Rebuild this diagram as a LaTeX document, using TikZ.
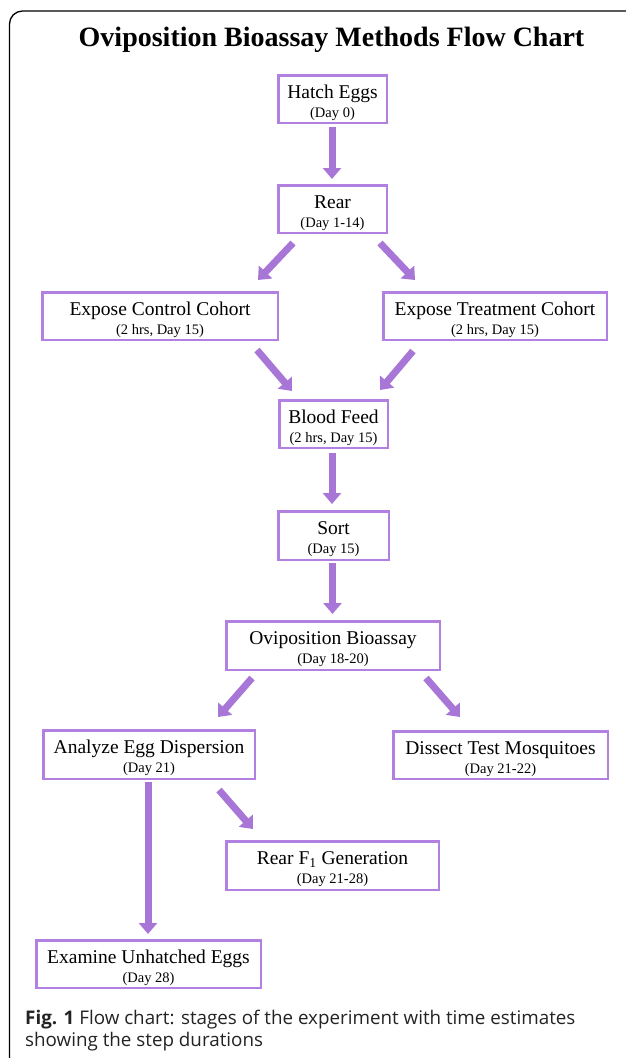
\documentclass[tikz,border=0pt]{standalone}
\usepackage{fontspec}
\setmainfont{Liberation Serif}
\newfontfamily\capfont{Open Sans}
\usetikzlibrary{arrows.meta}
\definecolor{boxcol}{RGB}{178,128,224}
\definecolor{arrcol}{RGB}{168,118,214}
\definecolor{captxt}{RGB}{35,35,35}
\tikzset{
  boxst/.style={draw=boxcol, line width=2.5pt, rectangle, inner sep=0pt, fill=white},
  mainst/.style={anchor=base, inner sep=0pt, font=\fontsize{19.5}{20}\selectfont},
  subst/.style={anchor=base, inner sep=0pt, font=\fontsize{14.5}{16}\selectfont},
  arr/.style={draw=arrcol, line width=7pt, line cap=butt, -{Triangle[width=18pt,length=11pt]}, fill=arrcol},
  capst/.style={anchor=base west, inner sep=0pt, text=captxt, font=\capfont\fontsize{18.8}{22}\selectfont},
}
\newcommand{\fbx}[7]{%
  \node[boxst, minimum width=#4, minimum height=#5] (#1) at (#2,#3) {};
  \node[mainst] (#1-m) at ([yshift=-24pt]#1.north) {#6};
  \node[subst] (#1-s) at ([yshift=-43pt]#1.north) {#7};
}
\begin{document}
\begin{tikzpicture}[x=1pt,y=-1pt]
\useasboundingbox (0,0) rectangle (625,1058);
% frame
\draw[line width=1.3pt, rounded corners=13pt] (9.5,1070) -- (9.5,11) -- (640,11);
% title
\node[anchor=base, inner sep=0pt, font=\fontsize{28}{30}\selectfont\bfseries] (title) at (331.5,46) {Oviposition Bioassay Methods Flow Chart};
% boxes
\fbx{hatch}{332.5}{99}{108.5pt}{47.5pt}{Hatch Eggs}{(Day 0)}
\fbx{rear}{332.5}{209}{108.5pt}{47.5pt}{Rear}{(Day 1-14)}
\fbx{ctrl}{160}{316}{235.5pt}{47.5pt}{Expose Control Cohort}{(2 hrs, Day 15)}
\fbx{treat}{495}{316}{223.5pt}{47.5pt}{Expose Treatment Cohort}{(2 hrs, Day 15)}
\fbx{blood}{333.5}{424}{108.5pt}{47.5pt}{Blood Feed}{(2 hrs, Day 15)}
\fbx{sort}{333.5}{535.5}{110.5pt}{48.5pt}{Sort}{(Day 15)}
\fbx{ovip}{333}{645.5}{213.5pt}{48.5pt}{Oviposition Bioassay}{(Day 18-20)}
\fbx{analyze}{149}{754.5}{211.5pt}{48.5pt}{Analyze Egg Dispersion}{(Day 21)}
\fbx{dissect}{500.5}{755}{214.5pt}{47.5pt}{Dissect Test Mosquitoes}{(Day 21-22)}
\fbx{f1}{332.5}{865.5}{212.5pt}{48.5pt}{Rear F\textsubscript{1} Generation}{(Day 21-28)}
\fbx{examine}{148.5}{964}{224.5pt}{47.5pt}{Examine Unhatched Eggs}{(Day 28)}
% arrows
\draw[arr] ([shift={(-0.5,3)}]hatch.south) -- ([shift={(-0.5,-5)}]rear.north);
\draw[arr] ([shift={(-39.5,9)}]rear.south) -- ([shift={(98,-11)}]ctrl.north);
\draw[arr] ([shift={(47.5,9)}]rear.south) -- ([shift={(-80,-11)}]treat.north);
\draw[arr] ([shift={(97,9)}]ctrl.south) -- ([shift={(-41.5,-8)}]blood.north);
\draw[arr] ([shift={(-82,10)}]treat.south) -- ([shift={(46.5,-9)}]blood.north);
\draw[arr] ([shift={(-1.5,4)}]blood.south) -- ([shift={(-1.5,-6)}]sort.north);
\draw[arr] ([shift={(-1,2)}]sort.south) -- ([shift={(-0.5,-6)}]ovip.north);
\draw[arr] ([shift={(-81,7)}]ovip.south) -- ([shift={(69,-12)}]analyze.north);
\draw[arr] ([shift={(93,7)}]ovip.south) -- ([shift={(-40.5,-13)}]dissect.north);
\draw[arr] ([shift={(70,10)}]analyze.south) -- ([shift={(-79.5,-11)}]f1.north);
\draw[arr] ([shift={(-1,1.5)}]analyze.south) -- ([shift={(-0.5,-5)}]examine.north);
% caption
\node[capst] (cap1) at (25,1024) {\textbf{Fig. 1} Flow chart: stages of the experiment with time estimates};
\node[capst] (cap2) at (25,1046) {showing the step durations};
\end{tikzpicture}
\end{document}
